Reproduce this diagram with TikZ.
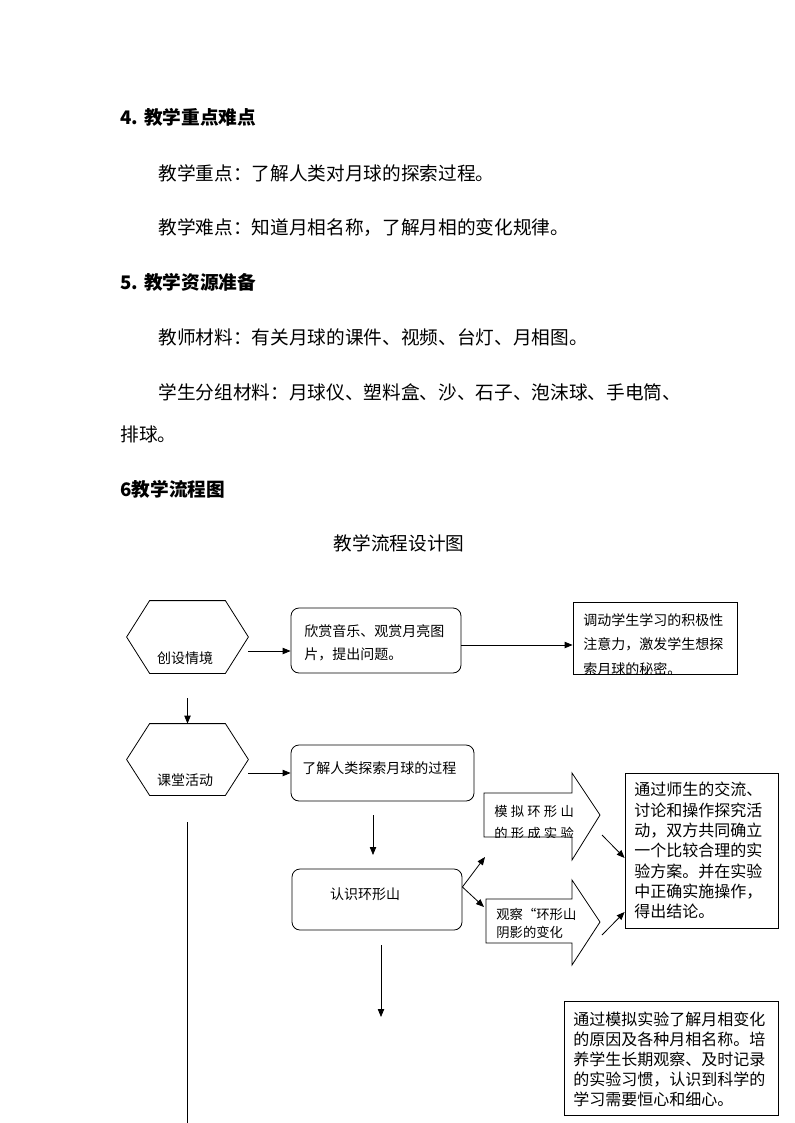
\documentclass[tikz,border=0pt]{standalone}
\usepackage{fontspec}
\setmainfont{Noto Sans CJK SC}
\usetikzlibrary{arrows.meta}

\newcommand{\pxu}{0.75pt}

\tikzset{
  pagetxt/.style={anchor=west, inner sep=0pt, font=\fontsize{14}{16}\selectfont},
  headtxt/.style={anchor=west, inner sep=0pt, font=\fontsize{14}{16}\selectfont\bfseries},
  flowtxt/.style={anchor=north west, inner sep=0pt, align=left, font=\fontsize{10.5}{17.25}\selectfont},
  notetxt/.style={anchor=north west, inner sep=0pt, align=left, font=\fontsize{12}{15.2}\selectfont},
  hexbox/.style={minimum width=121*\pxu, minimum height=72*\pxu, inner sep=0pt},
  roundbox/.style={draw, rounded corners=6pt, inner sep=0pt},
  plainbox/.style={draw, inner sep=0pt},
  arr/.style={-{Triangle[length=6pt,width=4.8pt]}},
}

\begin{document}
\begin{tikzpicture}[x=\pxu, y=-\pxu, line width=0.6pt]
  \useasboundingbox (0,0) rectangle (794,1123);

  % text above the chart
  \node[headtxt] (s4) at (120,117) {4. 教学重点难点};
  \node[pagetxt] (p1) at (158,173) {教学重点：了解人类对月球的探索过程。};
  \node[pagetxt] (p2) at (158,228) {教学难点：知道月相名称，了解月相的变化规律。};
  \node[headtxt] (s5) at (120,282) {5. 教学资源准备};
  \node[pagetxt] (p3) at (158,337) {教师材料：有关月球的课件、视频、台灯、月相图。};
  \node[pagetxt] (p4) at (158,392) {学生分组材料：月球仪、塑料盒、沙、石子、泡沫球、手电筒、};
  \node[pagetxt] (p5) at (120,434) {排球。};
  \node[headtxt] (s6) at (120,489) {6教学流程图};
  \node[inner sep=0pt, font=\fontsize{14}{16}\selectfont] (ttl) at (399,543) {教学流程设计图};

  % hexagons
  \node[hexbox] (h1) at (187.5,637) {};
  \draw (h1.west) -- ([shift={(23,0)}]h1.north west) -- ([shift={(-23,0)}]h1.north east)
    -- (h1.east) -- ([shift={(-23,0)}]h1.south east) -- ([shift={(23,0)}]h1.south west) -- cycle;
  \node[inner sep=0pt, font=\fontsize{10.5}{12}\selectfont] (t1) at (185,658) {创设情境};

  \node[hexbox, minimum height=71*\pxu] (h2) at (187.5,759.5) {};
  \draw (h2.west) -- ([shift={(23,0)}]h2.north west) -- ([shift={(-23,0)}]h2.north east)
    -- (h2.east) -- ([shift={(-23,0)}]h2.south east) -- ([shift={(23,0)}]h2.south west) -- cycle;
  \node[inner sep=0pt, font=\fontsize{10.5}{12}\selectfont] (t2) at (185,780) {课堂活动};

  % rounded boxes
  \node[roundbox, minimum width=170*\pxu, minimum height=65*\pxu] (b1) at (376,640.5) {};
  \node[flowtxt] (b1t) at (304,624) {欣赏音乐、观赏月亮图\\片，提出问题。};

  \node[roundbox, minimum width=183*\pxu, minimum height=56*\pxu] (b2) at (382.5,773) {};
  \node[flowtxt] (b2t) at (302,761) {了解人类探索月球的过程};

  \node[roundbox, minimum width=170*\pxu, minimum height=61*\pxu] (b3) at (377,899.5) {};
  \node[inner sep=0pt, font=\fontsize{10.5}{12}\selectfont] (b3t) at (365,894) {认识环形山};

  % plain boxes
  \node[plainbox, minimum width=164*\pxu, minimum height=72*\pxu] (r1) at (655,638) {};
  \begin{scope}
    \clip (r1.north west) rectangle (r1.south east);
    \node[flowtxt, font=\fontsize{10.5}{18.5}\selectfont] (r1t) at (583,613) {调动学生学习的积极性\\注意力，激发学生想探\\索月球的秘密。};
  \end{scope}

  \node[plainbox, minimum width=153*\pxu, minimum height=155*\pxu] (r2) at (701.5,850.5) {};
  \node[notetxt] (r2t) at (634,782) {通过师生的交流、\\讨论和操作探究活\\动，双方共同确立\\一个比较合理的实\\验方案。并在实验\\中正确实施操作，\\得出结论。};

  \node[plainbox, minimum width=214*\pxu, minimum height=114*\pxu] (r3) at (671,1058) {};
  \node[notetxt, font=\fontsize{12}{15}\selectfont] (r3t) at (573,1012) {通过模拟实验了解月相变化\\的原因及各种月相名称。培\\养学生长期观察、及时记录\\的实验习惯，认识到科学的\\学习需要恒心和细心。};

  % block arrows
  \draw (484,793) -- (572,793) -- (572,773) -- (600,815) -- (572,860) -- (572,837) -- (484,837) -- cycle;
  \begin{scope}
    \clip (484,793) rectangle (588,837);
    \node[flowtxt, font=\fontsize{10}{16.5}\selectfont] (a1t) at (494,805) {模\hspace{2.4pt}拟\hspace{2.4pt}环\hspace{2.4pt}形\hspace{2.4pt}山\\的\hspace{2.4pt}形\hspace{2.4pt}成\hspace{2.4pt}实\hspace{2.4pt}验};
  \end{scope}

  \draw (486,899) -- (572,899) -- (572,880) -- (600,922) -- (572,965) -- (572,943) -- (486,943) -- cycle;
  \node[flowtxt, font=\fontsize{10}{13.5}\selectfont] (a2t) at (496,908) {观察“环形山\\阴影的变化};

  % connectors
  \draw[arr] ([shift={(0,14)}]h1.east) -- ([shift={(0,10.5)}]b1.west);
  \draw[arr] ([shift={(0,4.5)}]b1.east) -- ([shift={(0,7)}]r1.west);
  \draw[arr] ([shift={(0,25)}]h1.south) -- (h2.north);
  \draw[arr] ([shift={(0,13.5)}]h2.east) -- (b2.west);
  \draw ([shift={(0,27)}]h2.south) -- (187.5,1123);

  \coordinate (d1) at (373,815);
  \coordinate (d2) at (373,855);
  \draw[arr] (d1) -- (d2);

  \coordinate (u1) at (485,857);
  \coordinate (u2) at (484,907);
  \draw[arr] ([shift={(0,-12.5)}]b3.east) -- (u1);
  \draw[arr] ([shift={(0,-12.5)}]b3.east) -- (u2);

  \coordinate (v1) at (602,835);
  \coordinate (v2) at (602,935);
  \draw[arr] (v1) -- ([shift={(0,7.5)}]r2.west);
  \draw[arr] (v2) -- ([shift={(0,61.5)}]r2.west);

  \coordinate (e1) at (381,945);
  \coordinate (e2) at (381,1017);
  \draw[arr] (e1) -- (e2);
\end{tikzpicture}
\end{document}
